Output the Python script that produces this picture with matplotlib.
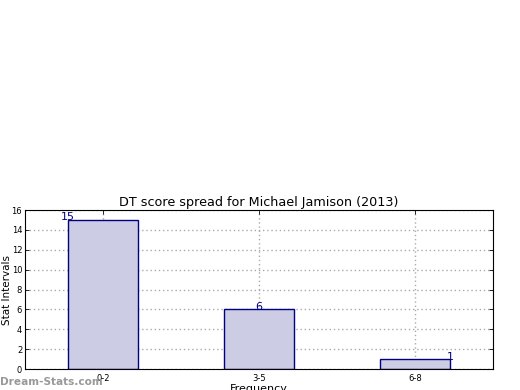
import matplotlib
matplotlib.use('Agg')
from matplotlib import pyplot as plt

intervals = ['0-2', '3-5', '6-8']
counts = [15, 6, 1]

fig = plt.figure(figsize=(5.2, 3.9), dpi=100)
ax = fig.add_axes([0.048, 0.0538, 0.9, 0.4077])

width = 0.45
x = list(range(len(intervals)))
ax.bar(x, counts, width=width, color='#ccccE4', edgecolor='#000080', linewidth=1.0, zorder=2)

# labels drift from left edge to right edge like the original
for i, c in enumerate(counts):
    lx = i - width / 2 + i * width / 2
    ax.text(lx, c - 0.25, str(c), ha='center', va='bottom', color='#000080', fontsize=8)

ax.set_xlim(-0.5, 2.5)
ax.set_ylim(0, 16)
ax.set_xticks(x)
ax.set_xticklabels(intervals, fontsize=6)
ax.set_yticks(range(0, 17, 2))
ax.tick_params(axis='y', labelsize=6, pad=2)
ax.tick_params(direction='in', top=True, right=True, length=3, width=0.6)
ax.grid(True, linestyle=(0, (1, 2)), color='#aaaaaa', linewidth=1.0, zorder=0)
ax.set_axisbelow(True)

ax.set_title('DT score spread for Michael Jamison (2013)', fontsize=9.2, pad=3)
ax.set_ylabel('Stat Intervals', fontsize=7.5, labelpad=0)
ax.set_xlabel('Frequency', fontsize=8, labelpad=1)

fig.text(0.0, 0.013, 'Dream-Stats.com', fontsize=7.6, color='#999999', fontweight='bold')

plt.savefig('out.png')
